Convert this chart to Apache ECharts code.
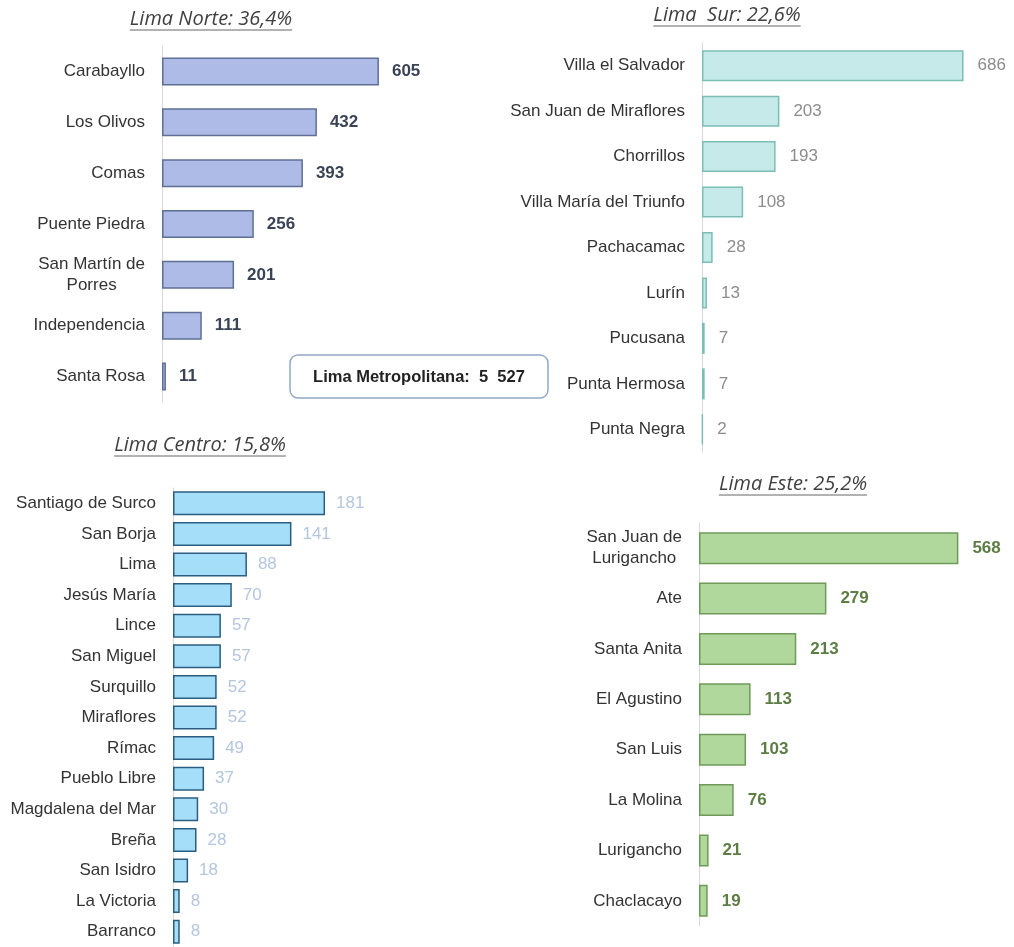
<!DOCTYPE html>
<html>
<head>
<meta charset="utf-8">
<script src="https://cdn.jsdelivr.net/npm/echarts@6/dist/echarts.min.js"></script>
<style>
  html, body { margin: 0; padding: 0; background: #fff; }
  #chart { width: 1014px; height: 947px; }
</style>
</head>
<body>
<div id="chart"></div>
<script>
// data
var norteCats = ['Carabayllo', 'Los Olivos', 'Comas', 'Puente Piedra', 'San Martín de\nPorres', 'Independencia', 'Santa Rosa']
var norteVals = [605, 432, 393, 256, 201, 111, 11]
var surCats = ['Villa el Salvador', 'San Juan de Miraflores', 'Chorrillos', 'Villa María del Triunfo', 'Pachacamac', 'Lurín', 'Pucusana', 'Punta Hermosa', 'Punta Negra']
var surVals = [686, 203, 193, 108, 28, 13, 7, 7, 2]
var centroCats = ['Santiago de Surco', 'San Borja', 'Lima', 'Jesús María', 'Lince', 'San Miguel', 'Surquillo', 'Miraflores', 'Rímac', 'Pueblo Libre', 'Magdalena del Mar', 'Breña', 'San Isidro', 'La Victoria', 'Barranco']
var centroVals = [181, 141, 88, 70, 57, 57, 52, 52, 49, 37, 30, 28, 18, 8, 8]
var esteCats = ['San Juan de\nLurigancho', 'Ate', 'Santa Anita', 'El Agustino', 'San Luis', 'La Molina', 'Lurigancho', 'Chaclacayo']
var esteVals = [568, 279, 213, 113, 103, 76, 21, 19]
var panelTitles = ['Lima Norte: 36,4%', 'Lima  Sur: 22,6%', 'Lima Centro: 15,8%', 'Lima Este: 25,2%']
var totalText = 'Lima Metropolitana:  5  527'

var LABEL_FONT = 'Liberation Sans, Arial, sans-serif'
var LABEL_SIZE = 17
var TITLE_FONT = 'italic 20px "Open Sans", sans-serif'

var ctx = document.createElement('canvas').getContext('2d')
function textWidth(str, font) {
  ctx.font = font
  return ctx.measureText(str).width
}

// panel layout: grid box, axis max, bar width and colours
var panels = [
  { cats: norteCats, vals: norteVals, left: 162, top: 46, height: 356, max: 700, width: 251, barWidth: 28,
    fill: '#adbbe6', border: '#5f6f95', label: '#3a4356', bold: true, dist: 13,
    title: { x: 211, y: 19, ul: 30 } },
  { cats: surCats, vals: surVals, left: 702, top: 43, height: 409, max: 800, width: 305, barWidth: 31,
    fill: '#c6eaea', border: '#7cbdb5', label: '#8c8c8c', bold: false, dist: 14,
    title: { x: 727, y: 15, ul: 26 } },
  { cats: centroCats, vals: centroVals, left: 173, top: 488, height: 464, max: 200, width: 168, barWidth: 24,
    fill: '#a4def8', border: '#2c5d80', label: '#b4c6de', bold: false, dist: 11,
    title: { x: 200, y: 445, ul: 456 } },
  { cats: esteCats, vals: esteVals, left: 699, top: 523, height: 403, max: 600, width: 274, barWidth: 32,
    fill: '#b0d89c', border: '#6f9a5a', label: '#5c7d44', bold: true, dist: 14,
    title: { x: 793, y: 484, ul: 495 } }
]

var grids = [], xAxes = [], yAxes = [], series = [], graphics = []

panels.forEach(function(p, i) {
  var twoLine = p.cats.filter(function(c) { return c.indexOf('\n') >= 0 }).join('\n').split('\n')
  var blockW = Math.max.apply(null, twoLine.map(function(s) {
    return textWidth(s, LABEL_SIZE + 'px ' + LABEL_FONT)
  }).concat([0]))

  grids.push({ left: p.left, top: p.top, width: p.width, height: p.height })
  xAxes.push({
    type: 'value', gridIndex: i, min: 0, max: p.max, show: false
  })
  yAxes.push({
    type: 'category', gridIndex: i, data: p.cats, inverse: true,
    axisLine: { lineStyle: { color: '#d9d9d9', width: 1 }},
    axisTick: { show: false },
    axisLabel: {
      margin: 17,
      color: '#333',
      fontFamily: LABEL_FONT,
      fontSize: LABEL_SIZE,
      formatter: function(v) {
        return v.indexOf('\n') >= 0 ? '{m|' + v + '}' : v
      },
      rich: {
        m: {
          width: blockW,
          align: 'center',
          lineHeight: 21,
          fontSize: LABEL_SIZE,
          fontFamily: LABEL_FONT,
          color: '#333'
        }
      }
    }
  })
  series.push({
    type: 'bar', xAxisIndex: i, yAxisIndex: i, data: p.vals,
    barWidth: p.barWidth,
    itemStyle: { color: p.fill, borderColor: p.border, borderWidth: 1.5 },
    label: {
      show: true, position: 'right', distance: p.dist,
      color: p.label, fontSize: LABEL_SIZE, fontFamily: LABEL_FONT,
      fontWeight: p.bold ? 'bold' : 'normal'
    },
    animation: false
  })

  var tw = textWidth(panelTitles[i], TITLE_FONT)
  graphics.push({
    type: 'text', x: p.title.x, y: p.title.y,
    style: {
      text: panelTitles[i], font: TITLE_FONT, fill: '#404040',
      textAlign: 'center', textVerticalAlign: 'middle'
    }
  })
  graphics.push({
    type: 'line',
    shape: { x1: p.title.x - tw / 2, y1: p.title.ul, x2: p.title.x + tw / 2, y2: p.title.ul },
    style: { stroke: '#666', lineWidth: 1 }
  })
})

// total box
graphics.push({
  type: 'rect',
  shape: { x: 290, y: 355, width: 258, height: 43, r: 8 },
  style: { fill: '#fff', stroke: '#93a9c6', lineWidth: 1.5 }
})
graphics.push({
  type: 'text', x: 419, y: 377,
  style: {
    text: totalText, font: 'bold 16.5px ' + LABEL_FONT, fill: '#222',
    textAlign: 'center', textVerticalAlign: 'middle'
  }
})

var chart = echarts.init(document.getElementById('chart'))
chart.setOption({
  backgroundColor: '#fff',
  animation: false,
  grid: grids,
  xAxis: xAxes,
  yAxis: yAxes,
  series: series,
  graphic: graphics
})
</script>
</body>
</html>
